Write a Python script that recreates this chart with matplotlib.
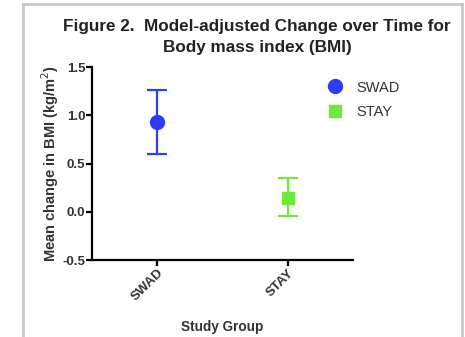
import matplotlib.pyplot as plt
from matplotlib.lines import Line2D

groups = ['SWAD', 'STAY']
means = [0.93, 0.14]
upper = [1.26, 0.35]
lower = [0.60, -0.04]
colors = ['#2e3dfb', '#6ee83a']
markers = ['o', 's']

plt.rcParams['font.family'] = ['Liberation Sans', 'DejaVu Sans']

fig = plt.figure(figsize=(4.65, 3.37), dpi=100)
ax = fig.add_axes([0.198, 0.228, 0.561, 0.573])

for i, g in enumerate(groups):
    err = [[means[i] - lower[i]], [upper[i] - means[i]]]
    ax.errorbar([i], [means[i]], yerr=err, fmt=markers[i], color=colors[i],
                ms=10 if markers[i] == 'o' else 9, capsize=7, elinewidth=1.6,
                capthick=1.6, label=g)

ax.set_xlim(-0.5, 1.5)
ax.set_ylim(-0.5, 1.5)
ax.set_yticks([-0.5, 0.0, 0.5, 1.0, 1.5])
ax.set_yticklabels(['-0.5', '0.0', '0.5', '1.0', '1.5'])
ax.set_xticks([0, 1])
ax.set_xticklabels(groups, rotation=45, ha='right', rotation_mode='anchor')
for lab in ax.get_xticklabels() + ax.get_yticklabels():
    lab.set_fontweight('bold')
    lab.set_fontsize(9.5)
    lab.set_color('#333333')
ax.spines['top'].set_visible(False)
ax.spines['right'].set_visible(False)
ax.spines['left'].set_linewidth(1.6)
ax.spines['bottom'].set_linewidth(1.6)
ax.tick_params(width=1.6, length=4, pad=1)

ax.set_ylabel('Mean change in BMI (kg/m$^2$)', fontsize=10.5, fontweight='bold', color='#333333', labelpad=1)
ax.set_xlabel('Study Group', fontsize=9.8, fontweight='bold', color='#333333', labelpad=12)

fig.text(0.553, 0.89, 'Figure 2.  Model-adjusted Change over Time for\nBody mass index (BMI)',
         ha='center', va='center', fontsize=12.3, fontweight='bold', color='#222222', linespacing=1.45)

handles = [Line2D([], [], marker='o', color=colors[0], ls='none', ms=10),
           Line2D([], [], marker='s', color=colors[1], ls='none', ms=9)]
fig.legend(handles, groups, loc='upper left', bbox_to_anchor=(0.66, 0.80), frameon=False,
           fontsize=10.5, labelcolor='#333333', handletextpad=0.5, labelspacing=0.75)

# grey frame around the figure
fig.add_artist(Line2D([0.05, 0.05], [0, 0.988], color='#c8c8c8', lw=2, transform=fig.transFigure))
fig.add_artist(Line2D([0.05, 0.994], [0.988, 0.988], color='#c8c8c8', lw=2, transform=fig.transFigure))
fig.add_artist(Line2D([0.994, 0.994], [0, 0.988], color='#c8c8c8', lw=2, transform=fig.transFigure))

fig.savefig('out.png', dpi=100)
